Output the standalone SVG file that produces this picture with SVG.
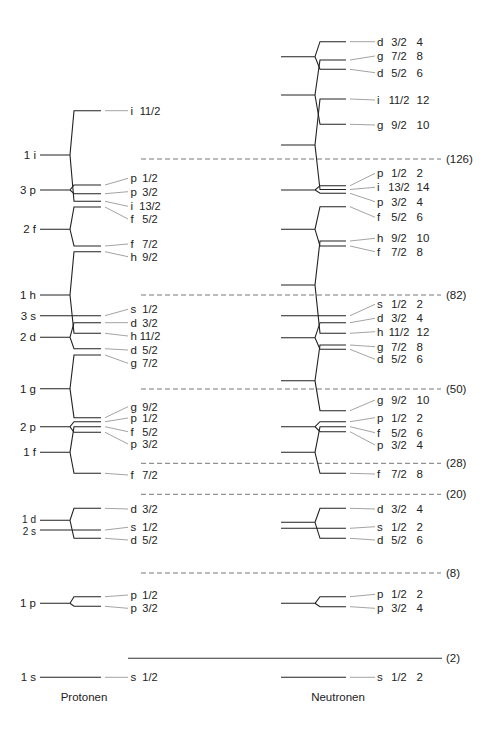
<svg xmlns="http://www.w3.org/2000/svg" width="492" height="737" viewBox="0 0 492 737">
<style>
.lv{fill:none;stroke:#222;stroke-width:1.1}
.cn{fill:none;stroke:#999;stroke-width:0.9}
.ds{fill:none;stroke:#777;stroke-width:1;stroke-dasharray:5 3}
.so{fill:none;stroke:#333;stroke-width:1.1}
text{font-family:"Liberation Sans",Arial,sans-serif;font-size:11.5px;fill:#222}
.ll{text-anchor:end}
.j{text-anchor:middle;font-size:11px}
.sm{font-size:10px}
</style>
<rect width="492" height="737" fill="#fff"/>

<g id="shells">
<path class="ds" d="M141,159H441"/>
<path class="ds" d="M141,295H441"/>
<path class="ds" d="M141,389H441"/>
<path class="ds" d="M141,463.3H441"/>
<path class="ds" d="M141,494.3H441"/>
<path class="ds" d="M141,573H441"/>
<path class="so" d="M128,658.3H442"/>
<text x="446" y="163">(126)</text>
<text x="446" y="299">(82)</text>
<text x="446" y="393">(50)</text>
<text x="446" y="467.3">(28)</text>
<text x="446" y="498.3">(20)</text>
<text x="446" y="577">(8)</text>
<text x="446" y="662.3">(2)</text>
</g>

<g id="connectors">
<path class="cn" d="M105,110.7L128,110.7 M105,185L128,178.3 M105,193.7L128,191.7 M105,201.3L128,206.3 M105,207L128,219 M105,246L128,244 M105,251.7L128,256.7 M105,315.7L128,309.3 M105,322.7L128,322.7 M105,333.3L128,336 M105,348.7L128,350 M105,355L128,363.3 M105,417.7L128,406.7 M105,421.7L128,418 M105,426.7L128,431.7 M105,432.3L128,444 M105,473.3L128,475 M105,508.3L128,509 M105,530L128,527.3 M105,538.3L128,540 M105,596.7L128,595 M105,606.3L128,608.3 M105,677.3L128,677.3"/>
<path class="cn" d="M350,41.7L375,41.7 M350,60L375,56 M350,69.3L375,72.7 M350,99L375,100 M350,124.3L375,125 M350,185.7L375,173.3 M350,189.5L375,187.3 M350,193.3L375,201.7 M350,206.7L375,217.3 M350,241L375,238.3 M350,246L375,251.7 M350,315.7L375,304.3 M350,322.7L375,318.3 M350,333.3L375,331.7 M350,345L375,346.7 M350,349.3L375,359.3 M350,410.7L375,400 M350,421.7L375,417.7 M350,426.7L375,432.7 M350,431.7L375,445 M350,473.3L375,474 M350,508.3L375,509 M350,528.3L375,526.7 M350,538.3L375,540 M350,596.7L375,594.3 M350,606.7L375,608.3 M350,677.3L375,677.3"/>
</g>

<g id="p-1i"><path class="lv" d="M40,155H70 M101,110.7H74L70,155L74,201.3H101"/><text class="ll" x="36" y="159">1 i</text></g>
<g id="p-3p"><path class="lv" d="M40,190H70 M101,185H74L70,190L74,193.7H101"/><text class="ll" x="36" y="194">3 p</text></g>
<g id="p-2f"><path class="lv" d="M40,229.3H70 M101,207H74L70,229.3L74,246H101"/><text class="ll" x="36" y="233.3">2 f</text></g>
<g id="p-1h"><path class="lv" d="M40,295H70 M101,251.7H74L70,295L74,333.3H101"/><text class="ll" x="36" y="299">1 h</text></g>
<g id="p-3s"><path class="lv" d="M40,315.7H101"/><text class="ll" x="36" y="319.7">3 s</text></g>
<g id="p-2d"><path class="lv" d="M40,337.3H70 M101,322.7H74L70,337.3L74,348.7H101"/><text class="ll" x="36" y="341.3">2 d</text></g>
<g id="p-1g"><path class="lv" d="M40,388.7H70 M101,355H74L70,388.7L74,417.7H101"/><text class="ll" x="36" y="392.7">1 g</text></g>
<g id="p-2p"><path class="lv" d="M40,426.7H70 M101,421.7H74L70,426.7L74,432.3H101"/><text class="ll" x="36" y="430.7">2 p</text></g>
<g id="p-1f"><path class="lv" d="M40,452.3H70 M101,426.7H74L70,452.3L74,473.3H101"/><text class="ll" x="36" y="456.3">1 f</text></g>
<g id="p-1d"><path class="lv" d="M40,520.3H70 M101,508.3H74L70,520.3L74,538.3H101"/><text class="ll sm" x="36" y="523">1 d</text></g>
<g id="p-2s"><path class="lv" d="M40,530H101"/><text class="ll sm" x="36" y="534.5">2 s</text></g>
<g id="p-1p"><path class="lv" d="M40,603.3H70 M101,596.7H74L70,603.3L74,606.3H101"/><text class="ll" x="36" y="607.3">1 p</text></g>
<g id="p-1s"><path class="lv" d="M40,677.3H101"/><text class="ll" x="36" y="681.3">1 s</text></g>

<g id="p-labels">
<text x="130.5" y="114.7">i</text><text class="j" x="150" y="114.7">11/2</text>
<text x="130.5" y="182.3">p</text><text class="j" x="150" y="182.3">1/2</text>
<text x="130.5" y="195.7">p</text><text class="j" x="150" y="195.7">3/2</text>
<text x="130.5" y="210.3">i</text><text class="j" x="150" y="210.3">13/2</text>
<text x="130.5" y="223">f</text><text class="j" x="150" y="223">5/2</text>
<text x="130.5" y="248">f</text><text class="j" x="150" y="248">7/2</text>
<text x="130.5" y="260.7">h</text><text class="j" x="150" y="260.7">9/2</text>
<text x="130.5" y="313.3">s</text><text class="j" x="150" y="313.3">1/2</text>
<text x="130.5" y="326.7">d</text><text class="j" x="150" y="326.7">3/2</text>
<text x="130.5" y="340">h</text><text class="j" x="150" y="340">11/2</text>
<text x="130.5" y="354">d</text><text class="j" x="150" y="354">5/2</text>
<text x="130.5" y="367.3">g</text><text class="j" x="150" y="367.3">7/2</text>
<text x="130.5" y="410.7">g</text><text class="j" x="150" y="410.7">9/2</text>
<text x="130.5" y="422">p</text><text class="j" x="150" y="422">1/2</text>
<text x="130.5" y="435.7">f</text><text class="j" x="150" y="435.7">5/2</text>
<text x="130.5" y="448">p</text><text class="j" x="150" y="448">3/2</text>
<text x="130.5" y="479">f</text><text class="j" x="150" y="479">7/2</text>
<text x="130.5" y="513">d</text><text class="j" x="150" y="513">3/2</text>
<text x="130.5" y="531.3">s</text><text class="j" x="150" y="531.3">1/2</text>
<text x="130.5" y="544">d</text><text class="j" x="150" y="544">5/2</text>
<text x="130.5" y="599">p</text><text class="j" x="150" y="599">1/2</text>
<text x="130.5" y="612.3">p</text><text class="j" x="150" y="612.3">3/2</text>
<text x="130.5" y="681.3">s</text><text class="j" x="150" y="681.3">1/2</text>
<text text-anchor="middle" x="84" y="701">Protonen</text>
</g>

<g id="n-3d"><path class="lv" d="M281,56.7H315 M346,41.7H320L315,56.7L320,69.3H346"/></g>
<g id="n-2g"><path class="lv" d="M281,95H315 M346,60H320L315,95L320,124.3H346"/></g>
<g id="n-1i"><path class="lv" d="M281,145H315 M346,99H320L315,145L320,189.5H346"/></g>
<g id="n-3p"><path class="lv" d="M281,190H315 M346,185.7H320L315,190L320,193.3H346"/></g>
<g id="n-2f"><path class="lv" d="M281,229.3H315 M346,206.7H320L315,229.3L320,246H346"/></g>
<g id="n-1h"><path class="lv" d="M281,285H315 M346,241H320L315,285L320,333.3H346"/></g>
<g id="n-3s"><path class="lv" d="M281,315.7H346"/></g>
<g id="n-2d"><path class="lv" d="M281,337.7H315 M346,322.7H320L315,337.7L320,349.3H346"/></g>
<g id="n-1g"><path class="lv" d="M281,380.7H315 M346,345H320L315,380.7L320,410.7H346"/></g>
<g id="n-2p"><path class="lv" d="M281,426.7H315 M346,421.7H320L315,426.7L320,431.7H346"/></g>
<g id="n-1f"><path class="lv" d="M281,452.3H315 M346,426.7H320L315,452.3L320,473.3H346"/></g>
<g id="n-1d"><path class="lv" d="M281,522.3H315 M346,508.3H320L315,522.3L320,538.3H346"/></g>
<g id="n-2s"><path class="lv" d="M281,528.3H346"/></g>
<g id="n-1p"><path class="lv" d="M281,603.3H315 M346,596.7H320L315,603.3L320,606.7H346"/></g>
<g id="n-1s"><path class="lv" d="M281,677.3H346"/></g>

<g id="n-labels">
<text x="377" y="45.7">d</text><text class="j" x="399" y="45.7">3/2</text><text x="416.5" y="45.7">4</text>
<text x="377" y="60">g</text><text class="j" x="399" y="60">7/2</text><text x="416.5" y="60">8</text>
<text x="377" y="76.7">d</text><text class="j" x="399" y="76.7">5/2</text><text x="416.5" y="76.7">6</text>
<text x="377" y="104">i</text><text class="j" x="399" y="104">11/2</text><text x="416.5" y="104">12</text>
<text x="377" y="129">g</text><text class="j" x="399" y="129">9/2</text><text x="416.5" y="129">10</text>
<text x="377" y="177.3">p</text><text class="j" x="399" y="177.3">1/2</text><text x="416.5" y="177.3">2</text>
<text x="377" y="191.3">i</text><text class="j" x="399" y="191.3">13/2</text><text x="416.5" y="191.3">14</text>
<text x="377" y="205.7">p</text><text class="j" x="399" y="205.7">3/2</text><text x="416.5" y="205.7">4</text>
<text x="377" y="221.3">f</text><text class="j" x="399" y="221.3">5/2</text><text x="416.5" y="221.3">6</text>
<text x="377" y="242.3">h</text><text class="j" x="399" y="242.3">9/2</text><text x="416.5" y="242.3">10</text>
<text x="377" y="255.7">f</text><text class="j" x="399" y="255.7">7/2</text><text x="416.5" y="255.7">8</text>
<text x="377" y="308.3">s</text><text class="j" x="399" y="308.3">1/2</text><text x="416.5" y="308.3">2</text>
<text x="377" y="322.3">d</text><text class="j" x="399" y="322.3">3/2</text><text x="416.5" y="322.3">4</text>
<text x="377" y="335.7">h</text><text class="j" x="399" y="335.7">11/2</text><text x="416.5" y="335.7">12</text>
<text x="377" y="350.7">g</text><text class="j" x="399" y="350.7">7/2</text><text x="416.5" y="350.7">8</text>
<text x="377" y="363.3">d</text><text class="j" x="399" y="363.3">5/2</text><text x="416.5" y="363.3">6</text>
<text x="377" y="404">g</text><text class="j" x="399" y="404">9/2</text><text x="416.5" y="404">10</text>
<text x="377" y="421.7">p</text><text class="j" x="399" y="421.7">1/2</text><text x="416.5" y="421.7">2</text>
<text x="377" y="436.7">f</text><text class="j" x="399" y="436.7">5/2</text><text x="416.5" y="436.7">6</text>
<text x="377" y="449">p</text><text class="j" x="399" y="449">3/2</text><text x="416.5" y="449">4</text>
<text x="377" y="478">f</text><text class="j" x="399" y="478">7/2</text><text x="416.5" y="478">8</text>
<text x="377" y="513">d</text><text class="j" x="399" y="513">3/2</text><text x="416.5" y="513">4</text>
<text x="377" y="530.7">s</text><text class="j" x="399" y="530.7">1/2</text><text x="416.5" y="530.7">2</text>
<text x="377" y="544">d</text><text class="j" x="399" y="544">5/2</text><text x="416.5" y="544">6</text>
<text x="377" y="598.3">p</text><text class="j" x="399" y="598.3">1/2</text><text x="416.5" y="598.3">2</text>
<text x="377" y="612.3">p</text><text class="j" x="399" y="612.3">3/2</text><text x="416.5" y="612.3">4</text>
<text x="377" y="681.3">s</text><text class="j" x="399" y="681.3">1/2</text><text x="416.5" y="681.3">2</text>
<text text-anchor="middle" x="338" y="701">Neutronen</text>
</g>
</svg>
